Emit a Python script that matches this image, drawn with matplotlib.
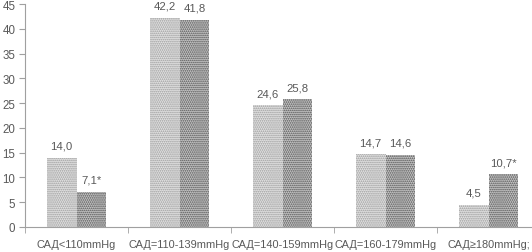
import matplotlib
matplotlib.use("Agg")
import matplotlib.pyplot as plt
import numpy as np

categories = ["САД<110mmHg", "САД=110-139mmHg", "САД=140-159mmHg", "САД=160-179mmHg", "САД≥180mmHg;"]
group1 = [14.0, 42.2, 24.6, 14.7, 4.5]
group2 = [7.1, 41.8, 25.8, 14.6, 10.7]
labels1 = ["14,0", "42,2", "24,6", "14,7", "4,5"]
labels2 = ["7,1*", "41,8", "25,8", "14,6", "10,7*"]

plt.rcParams['font.family'] = ['Liberation Sans', 'DejaVu Sans']
plt.rcParams['hatch.linewidth'] = 0.8
txt = '#595959'

fig = plt.figure(figsize=(5.32, 2.53), dpi=100)
ax = fig.add_axes([25/532, 25/253, 515/532, 223/253])

x = np.arange(len(categories))
w = 0.29
b1 = ax.bar(x - w/2, group1, w, color='#e2e2e2', edgecolor='#9a9a9a', hatch='........', linewidth=0)
b2 = ax.bar(x + w/2, group2, w, color='#c6c6c6', edgecolor='#505050', hatch='........', linewidth=0)

for xi, v, s in zip(x, group1, labels1):
    ax.annotate(s, (xi - w/2, v), xytext=(0, 5), textcoords='offset points',
                ha='center', va='bottom', fontsize=8.2, color=txt)
for xi, v, s in zip(x, group2, labels2):
    ax.annotate(s, (xi + w/2, v), xytext=(0, 5), textcoords='offset points',
                ha='center', va='bottom', fontsize=8.2, color=txt)

ax.set_xlim(-0.5, len(categories) - 0.5)
ax.set_ylim(0, 45)
ax.set_yticks(range(0, 46, 5))
ax.set_xticks(x)
ax.set_xticklabels(categories)
ax.set_xticks(np.arange(-0.5, len(categories), 1), minor=True)
ax.tick_params(axis='x', which='major', length=0, pad=9, labelsize=7.9, labelcolor=txt)
ax.tick_params(axis='x', which='minor', length=4, color='#a0a0a0', direction='out')
ax.tick_params(axis='y', length=4, color='#a0a0a0', labelsize=8.3, labelcolor=txt, pad=3)

for side in ['top', 'right']:
    ax.spines[side].set_visible(False)
for side in ['left', 'bottom']:
    ax.spines[side].set_color('#a0a0a0')
    ax.spines[side].set_linewidth(0.8)

fig.savefig("out.png", dpi=100)
